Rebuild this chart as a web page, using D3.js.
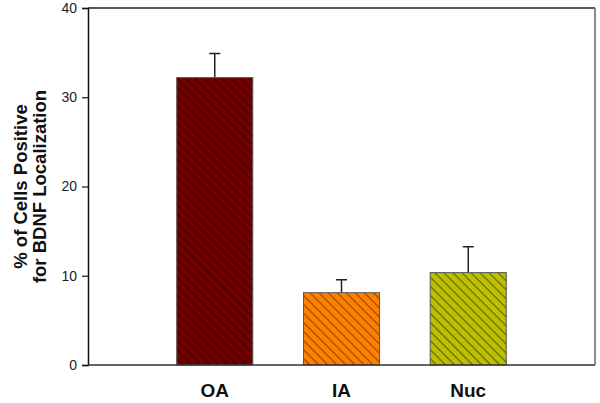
<!DOCTYPE html>
<html>
<head>
<meta charset="utf-8">
<script src="https://cdn.jsdelivr.net/npm/d3@7"></script>
<style>
  body { margin: 0; background: #fff; }
  svg { display: block; font-family: Arial, "Liberation Sans", sans-serif; }
</style>
</head>
<body>
<script>
//chart data
var categories = ["OA", "IA", "Nuc"];
var values = [32.2, 8.1, 10.35];
var errors = [2.7, 1.45, 2.9];
var fillColors = ["#720000", "#ff8000", "#bcc000"];
var hatchColors = ["#3c0000", "#8a4600", "#5e6000"];
var yTicks = [0, 10, 20, 30, 40];

var width = 600,
    height = 403,
    margin = {top: 8, right: 5, bottom: 38, left: 88};

var svg = d3.select("body")
    .append("svg")
    .attr("width", width)
    .attr("height", height);

//hatch patterns, one per bar
var defs = svg.append("defs");
categories.forEach(function(c, i){
    var p = defs.append("pattern")
        .attr("id", "hatch" + i)
        .attr("patternUnits", "userSpaceOnUse")
        .attr("width", 6.4)
        .attr("height", 6.4)
        .attr("patternTransform", "rotate(45)");
    p.append("rect")
        .attr("width", 6.4)
        .attr("height", 6.4)
        .attr("fill", fillColors[i]);
    p.append("line")
        .attr("x1", 0).attr("y1", 0)
        .attr("x2", 6.4).attr("y2", 0)
        .attr("stroke", hatchColors[i])
        .attr("stroke-width", 2.2);
});

var x = d3.scaleLinear()
    .domain([0, 4])
    .range([margin.left, width - margin.right]);

var y = d3.scaleLinear()
    .domain([0, 40])
    .range([height - margin.bottom, margin.top]);

var step = x(1) - x(0),
    barWidth = step * 0.6;

//frame top and right
svg.append("line")
    .attr("x1", x(0)).attr("x2", x(4))
    .attr("y1", y(40)).attr("y2", y(40))
    .attr("stroke", "#222").attr("stroke-width", 1.5);
svg.append("line")
    .attr("x1", x(4)).attr("x2", x(4))
    .attr("y1", y(40)).attr("y2", y(0))
    .attr("stroke", "#666").attr("stroke-width", 1.5);

//error bars (drawn first so the bar covers the bottom)
var g = svg.append("g");
categories.forEach(function(c, i){
    var cx = x(i + 1);
    g.append("line")
        .attr("x1", cx).attr("x2", cx)
        .attr("y1", y(values[i])).attr("y2", y(values[i] + errors[i]))
        .attr("stroke", "#222").attr("stroke-width", 1.5);
    g.append("line")
        .attr("x1", cx - 5.5).attr("x2", cx + 5.5)
        .attr("y1", y(values[i] + errors[i])).attr("y2", y(values[i] + errors[i]))
        .attr("stroke", "#222").attr("stroke-width", 1.5);
});

//bars
svg.selectAll(".bars")
    .data(values)
    .enter()
    .append("rect")
    .attr("class", "bars")
    .attr("x", function(d, i){ return x(i + 1) - barWidth / 2; })
    .attr("y", function(d){ return y(d); })
    .attr("width", barWidth)
    .attr("height", function(d){ return y(0) - y(d); })
    .attr("fill", function(d, i){ return "url(#hatch" + i + ")"; })
    .attr("stroke", "#555")
    .attr("stroke-width", 1);

//y axis
var yAxis = d3.axisLeft(y)
    .tickValues(yTicks)
    .tickSize(6)
    .tickPadding(5);
var ya = svg.append("g")
    .attr("transform", "translate(" + x(0) + ",0)")
    .call(yAxis);
ya.select(".domain").attr("stroke", "#111").attr("stroke-width", 1.5);
ya.selectAll(".tick line").attr("stroke", "#111").attr("stroke-width", 1.2);
ya.selectAll("text").attr("font-size", 14).attr("fill", "#222")
    .attr("font-family", "Arial, 'Liberation Sans', sans-serif");

//x axis line
svg.append("line")
    .attr("x1", x(0)).attr("x2", x(4))
    .attr("y1", y(0)).attr("y2", y(0))
    .attr("stroke", "#333").attr("stroke-width", 1.5);

//category labels
svg.selectAll(".catLabel")
    .data(categories)
    .enter()
    .append("text")
    .attr("class", "catLabel")
    .attr("x", function(d, i){ return x(i + 1); })
    .attr("y", 397)
    .attr("text-anchor", "middle")
    .attr("font-size", 19)
    .attr("font-weight", "bold")
    .attr("fill", "#111")
    .text(function(d){ return d; });

//y axis title, two lines
var midY = (y(0) + y(40)) / 2;
var title = svg.append("text")
    .attr("transform", "translate(0," + midY + ") rotate(-90)")
    .attr("text-anchor", "middle")
    .attr("font-size", 18.5)
    .attr("font-weight", "bold")
    .attr("fill", "#111");
title.append("tspan").attr("x", 0).attr("y", 27).text("% of Cells Positive");
title.append("tspan").attr("x", 0).attr("y", 46).text("for BDNF Localization");
</script>
</body>
</html>
